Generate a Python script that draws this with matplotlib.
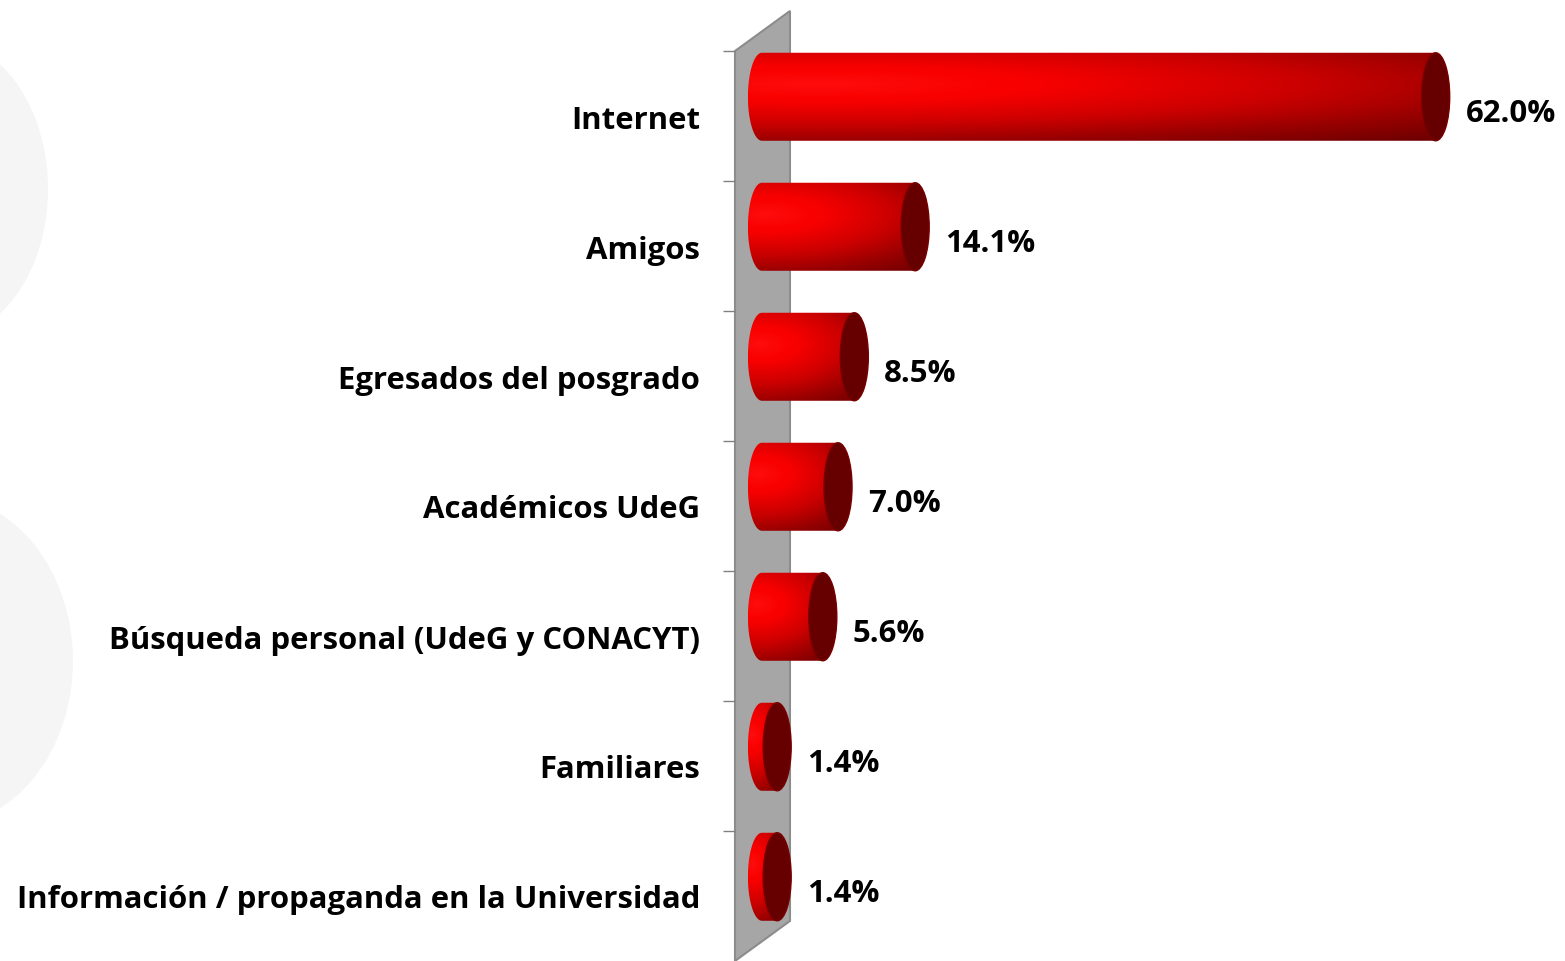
import numpy as np
import matplotlib
matplotlib.use("Agg")
import matplotlib.pyplot as plt
from matplotlib.patches import Ellipse, Polygon, PathPatch
from matplotlib.path import Path

plt.rcParams['font.family'] = ['Open Sans', 'DejaVu Sans']

# Data
categories = ["Internet", "Amigos", "Egresados del posgrado", "Académicos UdeG",
              "Búsqueda personal (UdeG y CONACYT)", "Familiares",
              "Información / propaganda en la Universidad"]
values = [62.0, 14.1, 8.5, 7.0, 5.6, 1.4, 1.4]
value_labels = ["62.0%", "14.1%", "8.5%", "7.0%", "5.6%", "1.4%", "1.4%"]

W, H = 1565, 962
FS = 22.4
fig = plt.figure(figsize=(W / 100, H / 100), dpi=100)
fig.patch.set_facecolor("white")

# faint background shapes (pixel coords)
bg = fig.add_axes([0, 0, 1, 1])
bg.set_xlim(0, W)
bg.set_ylim(H, 0)
bg.axis("off")
bg.add_patch(Ellipse((-60, 190), 216, 300, fc="#f5f5f5", ec="none"))
bg.add_patch(Ellipse((-60, 662), 266, 330, fc="#f5f5f5", ec="none"))

ax = fig.add_axes([735 / W, 0, 1 - 735 / W, 910 / H])
ax.set_facecolor("none")
n = len(categories)
ax.set_xlim(-2.48, 73.9)
ax.set_ylim(n - 0.5, -0.5)

# 3D wall on the left
x0 = ax.get_xlim()[0]
dx, dy = 5.06, 0.308
wall = Polygon([[x0, -0.5], [x0 + dx, -0.5 - dy], [x0 + dx, n - 0.5 - dy], [x0, n - 0.5]],
               closed=True, fc="#a6a6a6", ec="#8c8c8c", lw=1.5, clip_on=False, zorder=1)
ax.add_patch(wall)

# cylinders: radial shading from a highlight at upper-left
rx, bh = 1.29, 0.677
ry = bh / 2
gy, gx = np.mgrid[0:1:120j, 0:1:240j]
for i, v in enumerate(values):
    c = i - 0.148
    t = np.linspace(-np.pi / 2, np.pi / 2, 60)
    right = np.column_stack([v + rx * np.cos(t), c + ry * np.sin(t)])
    t2 = np.linspace(np.pi / 2, 3 * np.pi / 2, 60)
    left = np.column_stack([rx * np.cos(t2), c + ry * np.sin(t2)])
    pts = np.vstack([right, left, right[:1]])
    body = PathPatch(Path(pts), fc="none", ec="none", transform=ax.transData)
    ax.add_patch(body)

    d = np.sqrt(((gx - 0.1) / 1.05) ** 2 + ((gy - 0.36) / 0.68) ** 2)
    b = np.interp(d, [0, 0.3, 0.65, 0.95, 1.3], [1.0, 0.97, 0.8, 0.6, 0.4])
    g = np.clip(1 - d / 0.25, 0, 1) * 0.05
    img = np.dstack([b, g, g])
    im = ax.imshow(img, extent=(-rx, v + rx, c + ry, c - ry), aspect="auto",
                   interpolation="bilinear", zorder=3)
    im.set_clip_path(body)

    ax.add_patch(Ellipse((v, c), 2 * rx, bh, fc="#660000", ec="#7a0000", lw=1, zorder=4))
    ax.text(v + rx + 1.45, i - 0.025, value_labels[i], ha="left", va="center",
            fontsize=FS, fontweight="bold", color="black", zorder=5)

ax.set_xlim(-2.48, 73.9)
ax.set_ylim(n - 0.5, -0.5)

ax.set_yticks(range(n))
ax.set_yticklabels(categories, fontsize=FS, fontweight="bold")
ax.set_yticks(np.arange(-0.5, n - 0.5, 1), minor=True)
ax.tick_params(axis="y", which="major", length=0, pad=25)
ax.tick_params(axis="y", which="minor", length=8.6, width=1, color="#808080")
ax.set_xticks([])
for s in ax.spines.values():
    s.set_visible(False)

fig.savefig("out.png", dpi=100)
